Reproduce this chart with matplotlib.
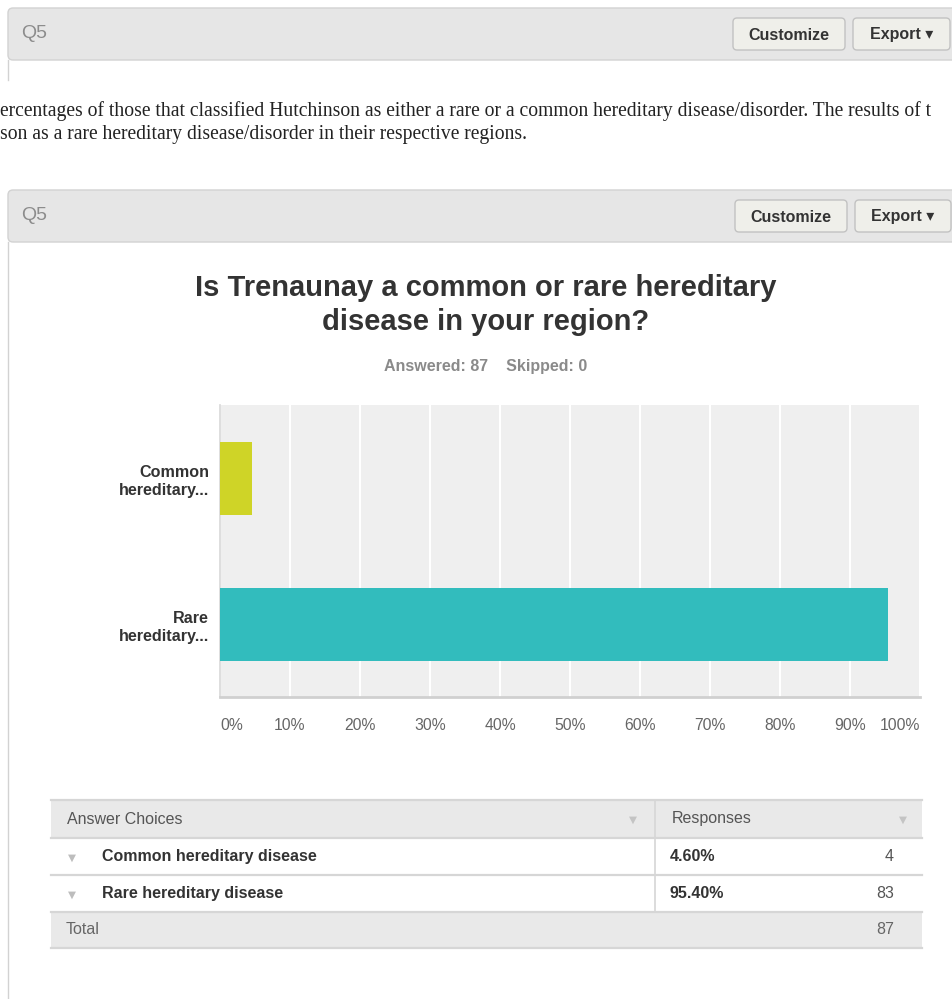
import matplotlib
matplotlib.use("Agg")
import matplotlib.pyplot as plt
from matplotlib.patches import FancyBboxPatch, Rectangle

# ---------------- data ----------------
categories = ["Common\nhereditary...", "Rare\nhereditary..."]
full_names = ["Common hereditary disease", "Rare hereditary disease"]
percents = [4.60, 95.40]
counts = [4, 83]
total = 87
answered = 87
skipped = 0
xticks = [0, 10, 20, 30, 40, 50, 60, 70, 80, 90, 100]
xtick_labels = ["0%", "10%", "20%", "30%", "40%", "50%", "60%", "70%", "80%", "90%", "100%"]
bar_colors = ["#cfd427", "#32bcbd"]
title_lines = ["Is Trenaunay a common or rare hereditary", "disease in your region?"]
body_lines = [
    "ercentages of those that classified Hutchinson as either a rare or a common hereditary disease/disorder. The results of t",
    "son as a rare hereditary disease/disorder in their respective regions.",
]

W, H = 953, 999
plt.rcParams['font.family'] = ['Liberation Sans', 'DejaVu Sans']
fig = plt.figure(figsize=(W / 100, H / 100), dpi=100)
fig.patch.set_facecolor("white")

# background overlay in pixel coordinates
bg = fig.add_axes([0, 0, 1, 1], zorder=0)
bg.set_xlim(0, W)
bg.set_ylim(H, 0)
bg.axis("off")

SANS = ['Liberation Sans', 'DejaVu Sans']


def panel_header(y0, y1, btn_y0, btn_y1, cust_x, exp_x):
    hdr = FancyBboxPatch((8, y0), W + 20, y1 - y0,
                         boxstyle="round,pad=0,rounding_size=5",
                         fc="#e6e6e6", ec="#d2d2d2", lw=1.0, zorder=1)
    bg.add_patch(hdr)
    bg.text(21, (y0 + y1) / 2 - 1, "Q5", fontsize=14, color="#8c8c8c",
            ha="left", va="center", family=SANS, zorder=3)
    # buttons
    for (bx0, bx1, label) in [(cust_x[0], cust_x[1], "Customize"),
                              (exp_x[0], exp_x[1], "Export \u25BE")]:
        b = FancyBboxPatch((bx0, btn_y0), bx1 - bx0, btn_y1 - btn_y0,
                           boxstyle="round,pad=0,rounding_size=4",
                           fc="#efefea", ec="#c2c2c2", lw=1.0, zorder=2)
        bg.add_patch(b)
        bg.text((bx0 + bx1) / 2, (btn_y0 + btn_y1) / 2 + 1, label, fontsize=11.5,
                fontweight="bold", color="#333333", ha="center", va="center",
                family=SANS, zorder=3)


# panel 1
panel_header(8, 60, 18, 50, (733, 845), (853, 950))
bg.plot([8, 8], [60, 80], color="#d2d2d2", lw=1.0, zorder=1)

# body text
serif = ["Liberation Serif", "DejaVu Serif"]
bg.text(0, 111, body_lines[0], fontsize=14.1, color="#222222", ha="left",
        va="center", family=serif)
bg.text(0, 135, body_lines[1], fontsize=14.1, color="#222222", ha="left",
        va="center", family=serif)

# panel 2
panel_header(190, 242, 200, 232, (735, 847), (855, 951))
bg.plot([8, 8], [242, H], color="#d2d2d2", lw=1.0, zorder=1)

# title
for ty_, line in zip((288, 322), title_lines):
    bg.text(486, ty_, line, fontsize=21, fontweight="bold", color="#333333",
            ha="center", va="center", family=SANS)
bg.text(486, 366, f"Answered: {answered}    Skipped: {skipped}", fontsize=11.5,
        fontweight="bold", color="#8a8a8a", ha="center", va="center", family=SANS)

# ---------------- chart ----------------
ax = fig.add_axes([220 / W, 1 - 697 / H, 700 / W, 292 / H], zorder=2)
ax.set_facecolor("#efefef")
ypos = list(range(len(categories)))
ax.barh(ypos, percents, height=0.5, color=bar_colors, zorder=3)
ax.set_xlim(0, 100)
ax.set_ylim(len(categories) - 0.5, -0.5)
ax.set_xticks(xticks)
ax.xaxis.grid(True, color="white", lw=1.5, zorder=1)
ax.set_axisbelow(True)
ax.tick_params(axis="both", length=0)
ax.set_xticklabels(xtick_labels, fontsize=11.3, color="#666666")
ax.tick_params(axis="x", pad=15)
tl = ax.get_xticklabels()
tl[0].set_ha("left")
tl[-1].set_ha("right")
ax.set_yticks(ypos)
ax.set_yticklabels(categories, fontsize=11.6, fontweight="bold", color="#333333",
                   linespacing=1.3)
ax.tick_params(axis="y", pad=8)
for s in ["top", "right"]:
    ax.spines[s].set_visible(False)
ax.spines["bottom"].set_color("#d0d0d0")
ax.spines["bottom"].set_linewidth(2)
ax.spines["left"].set_color("#d8d8d8")
ax.spines["left"].set_linewidth(1.2)

# ---------------- table ----------------
tx0, tx1, tdiv = 51, 922, 655
rows_y = [800, 838, 875, 912, 948]
bg.add_patch(Rectangle((tx0, rows_y[0]), tx1 - tx0, rows_y[1] - rows_y[0],
                       fc="#e9e9e9", ec="none", zorder=1))
bg.add_patch(Rectangle((tx0, rows_y[3]), tx1 - tx0, rows_y[4] - rows_y[3],
                       fc="#e9e9e9", ec="none", zorder=1))
for yy in rows_y:
    bg.plot([tx0, tx1], [yy, yy], color="#d6d6d6", lw=1.6, zorder=2)
bg.plot([tdiv, tdiv], [rows_y[0], rows_y[3]], color="#d6d6d6", lw=1.2, zorder=2)

TFS = 11.5
hy = (rows_y[0] + rows_y[1]) / 2
bg.text(67, hy, "Answer Choices", fontsize=TFS, color="#555555", ha="left",
        va="center", family=SANS)
bg.text(672, hy, "Responses", fontsize=TFS, color="#555555", ha="left",
        va="center", family=SANS)
for x in (633, 903):
    bg.text(x, hy + 1, "\u25BC", fontsize=7.5, color="#c4c4c4", ha="center",
            va="center", family=["DejaVu Sans"])

for i, (name, p, c) in enumerate(zip(full_names, percents, counts)):
    cy = (rows_y[i + 1] + rows_y[i + 2]) / 2
    bg.text(72, cy + 1, "\u25BC", fontsize=7.5, color="#bdbdbd", ha="center",
            va="center", family=["DejaVu Sans"])
    bg.text(102, cy, name, fontsize=TFS, fontweight="bold", color="#333333",
            ha="left", va="center", family=SANS)
    bg.text(670, cy, f"{p:.2f}%", fontsize=TFS, fontweight="bold",
            color="#333333", ha="left", va="center", family=SANS)
    bg.text(894, cy, str(c), fontsize=TFS, color="#555555", ha="right",
            va="center", family=SANS)

ty = (rows_y[3] + rows_y[4]) / 2
bg.text(66, ty, "Total", fontsize=TFS, color="#666666", ha="left", va="center",
        family=SANS)
bg.text(894, ty, str(total), fontsize=TFS, color="#666666", ha="right",
        va="center", family=SANS)

fig.savefig("out.png", dpi=100, facecolor="white")
